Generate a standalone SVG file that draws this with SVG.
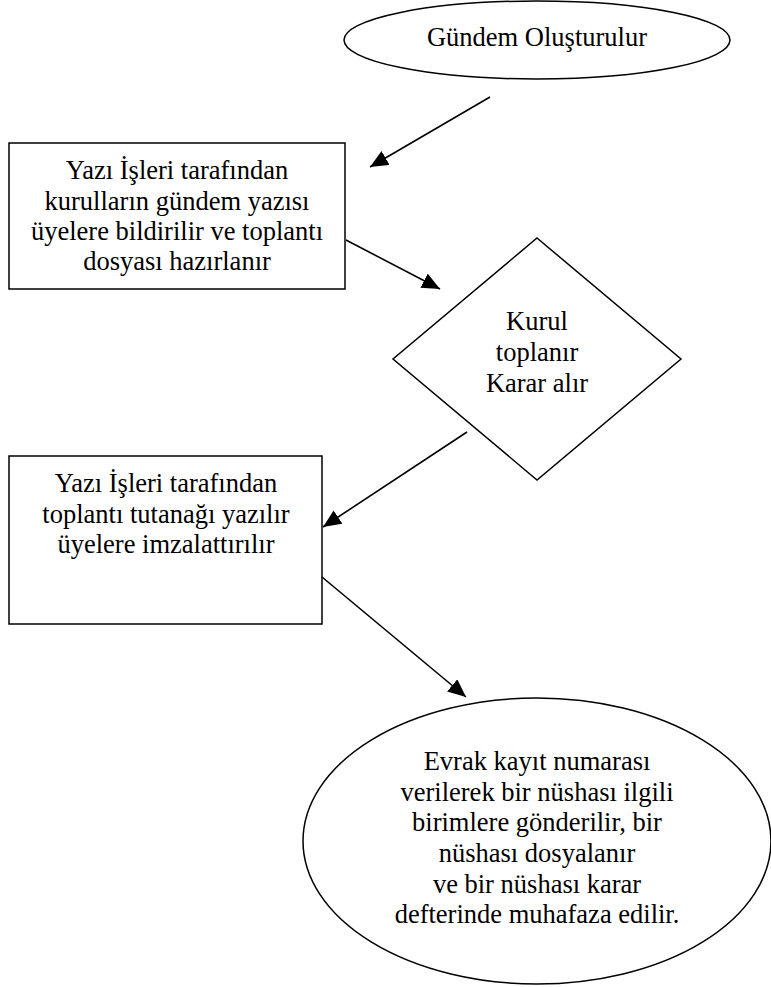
<svg xmlns="http://www.w3.org/2000/svg" width="771" height="987" viewBox="0 0 771 987">
<style>
.s{fill:#fff;stroke:#000;stroke-width:1.5}
.t{font-family:"Liberation Serif","Times New Roman",serif;font-size:26.5px;fill:#000;text-anchor:middle}
.c{stroke:#000;stroke-width:1.6;fill:none;marker-end:url(#ah)}
</style>
<defs>
<marker id="ah" markerUnits="userSpaceOnUse" markerWidth="20" markerHeight="16" refX="18" refY="8" orient="auto">
<path d="M0,0 L18,8 L0,16 Z" fill="#000"/>
</marker>
</defs>
<rect width="771" height="987" fill="#fff"/>
<g id="n1">
<ellipse class="s" cx="537" cy="40" rx="193" ry="39"/>
<text class="t" x="537" y="46">Gündem Oluşturulur</text>
</g>
<g id="n2">
<rect class="s" x="9" y="143" width="336" height="146"/>
<text class="t" x="177" y="179">Yazı İşleri tarafından</text>
<text class="t" x="177" y="210">kurulların gündem yazısı</text>
<text class="t" x="177" y="240">üyelere bildirilir ve toplantı</text>
<text class="t" x="177" y="270">dosyası hazırlanır</text>
</g>
<g id="n3">
<polygon class="s" points="537,238 681,359 537,480 393,359"/>
<text class="t" x="537" y="330">Kurul</text>
<text class="t" x="537" y="361">toplanır</text>
<text class="t" x="537" y="392">Karar alır</text>
</g>
<g id="n4">
<rect class="s" x="9" y="456" width="313" height="168"/>
<text class="t" x="166" y="492">Yazı İşleri tarafından</text>
<text class="t" x="166" y="523">toplantı tutanağı yazılır</text>
<text class="t" x="166" y="553">üyelere imzalattırılır</text>
</g>
<g id="n5">
<ellipse class="s" cx="537" cy="841" rx="234" ry="143"/>
<text class="t" x="537" y="770">Evrak kayıt numarası</text>
<text class="t" x="537" y="801">verilerek bir nüshası ilgili</text>
<text class="t" x="537" y="831">birimlere gönderilir, bir</text>
<text class="t" x="537" y="862">nüshası dosyalanır</text>
<text class="t" x="537" y="893">ve bir nüshası karar</text>
<text class="t" x="537" y="923">defterinde muhafaza edilir.</text>
</g>
<g id="connectors">
<line class="c" x1="490" y1="97" x2="370" y2="167"/>
<line class="c" x1="346" y1="240" x2="440" y2="289"/>
<line class="c" x1="467" y1="432" x2="323" y2="527"/>
<line class="c" x1="322" y1="577" x2="466" y2="697"/>
</g>
</svg>
